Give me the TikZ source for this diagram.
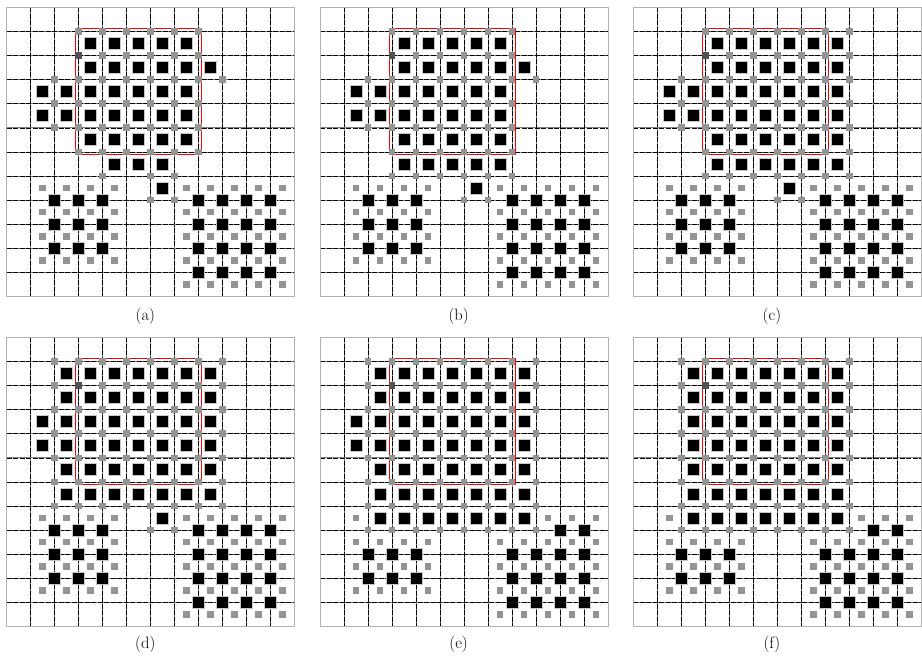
\documentclass[tikz,border=0pt]{standalone}
\begin{document}
\begin{tikzpicture}[x=1pt,y=1pt,
  gridin/.style={black!50,line width=0.8pt},
  gridda/.style={black,line width=0.6pt,dash pattern=on 5pt off 1.5pt},
  gridout/.style={black!30,line width=0.9pt},
  blksq/.style={fill=black,draw=black!22,line width=0.8pt},
  grysq/.style={fill=black!42},
  darksq/.style={fill=black!68},
  redbox/.style={red,line width=0.8pt},
  lab/.style={font=\fontsize{16.5}{19}\selectfont,anchor=base,inner sep=0pt}]
\useasboundingbox (0,0) rectangle (922,-661);
\fill[white] (0,0) rectangle (922,-661);
% helpers (cell units inside each panel scope)
\newcommand\Bsq[2]{\filldraw[blksq] ([shift={(-6pt,-6pt)}]#1,#2) rectangle ([shift={(6pt,6pt)}]#1,#2);}
\newcommand\Gsq[2]{\fill[grysq] ([shift={(-3.3pt,-3.3pt)}]#1,#2) rectangle ([shift={(3.3pt,3.3pt)}]#1,#2);}
\newcommand\Brow[2]{\foreach \xx in {#2}{\Bsq{\xx}{#1}}}
\newcommand\Grow[2]{\foreach \xx in {#2}{\Gsq{\xx}{#1}}}
\newcommand\PanelGrid{%
  \foreach \k in {1,...,11}{%
    \draw[gridin] (\k,0) -- (\k,12); \draw[gridda] (\k,0) -- (\k,12);
    \draw[gridin] (0,\k) -- (12,\k); \draw[gridda] (0,\k) -- (12,\k);}
  \draw[gridout] (0,0) rectangle (12,12);
  \draw[redbox] ([shift={(-3pt,3.2pt)}]3,1) rectangle ([shift={(3pt,-2.8pt)}]8,6);}
\newcommand\DarkDot{\fill[darksq] ([shift={(-3.3pt,-3.3pt)}]3,2) rectangle ([shift={(3.3pt,3.3pt)}]3,2);}
\newcommand\BotOld{%
  \foreach \yy in {7.5,8.5,9.5,10.5}{\Grow{\yy}{1.5,2.5,3.5,4.5}}
  \foreach \yy in {8,9,10}{\Brow{\yy}{2,3,4}}
  \foreach \yy in {7.5,8.5,9.5,10.5,11.5}{\Grow{\yy}{7.5,8.5,9.5,10.5,11.5}}
  \foreach \yy in {8,9,10,11}{\Brow{\yy}{8,9,10,11}}}
\newcommand\BotNew{%
  \Gsq{1.5}{7.5}
  \foreach \yy in {8.5,9.5,10.5}{\Grow{\yy}{1.5,2.5,3.5,4.5}}
  \foreach \yy in {9,10}{\Brow{\yy}{2,3,4}}
  \Grow{7.5}{9.5,10.5,11.5}
  \foreach \yy in {8.5,9.5,10.5,11.5}{\Grow{\yy}{7.5,8.5,9.5,10.5,11.5}}
  \Brow{8}{10,11}
  \foreach \yy in {9,10,11}{\Brow{\yy}{8,9,10,11}}}
% ---------- (a)
\begin{scope}[shift={(6.7,-7.3)},x=24pt,y=-24.1pt]
  \PanelGrid
  \Grow{1}{3,4,5,6,7,8}
  \Grow{2}{3,4,5,6,7,8}
  \Grow{3}{2,3,4,5,6,7,8,9}
  \Grow{4}{2,3,4,5,6,7,8}
  \Grow{5}{2,3,4,5,6,7,8}
  \Grow{6}{3,4,5,6,7,8}
  \Grow{7}{4,6,7}
  \Grow{8}{6,7}
  \Brow{1.5}{3.5,4.5,5.5,6.5,7.5}
  \Brow{2.5}{3.5,4.5,5.5,6.5,7.5,8.5}
  \Brow{3.5}{1.5,2.5,3.5,4.5,5.5,6.5,7.5}
  \Brow{4.5}{1.5,2.5,3.5,4.5,5.5,6.5,7.5}
  \Brow{5.5}{3.5,4.5,5.5,6.5,7.5}
  \Brow{6.5}{4.5,5.5,6.5}
  \Brow{7.5}{6.5}
  \BotOld
  \DarkDot
\end{scope}
% ---------- (b)
\begin{scope}[shift={(320,-7.3)},x=24pt,y=-24.1pt]
  \PanelGrid
  \Grow{1}{3,4,5,6,7,8}
  \Grow{2}{3,4,5,6,7,8}
  \Grow{3}{2,3,4,5,6,7,8,9}
  \Grow{4}{2,3,4,5,6,7,8}
  \Grow{5}{2,3,4,5,6,7,8}
  \Grow{6}{3,4,5,6,7,8}
  \Grow{7}{3,4,5,6,7,8}
  \Grow{8}{6,7}
  \Brow{1.5}{3.5,4.5,5.5,6.5,7.5}
  \Brow{2.5}{3.5,4.5,5.5,6.5,7.5,8.5}
  \Brow{3.5}{1.5,2.5,3.5,4.5,5.5,6.5,7.5}
  \Brow{4.5}{1.5,2.5,3.5,4.5,5.5,6.5,7.5}
  \Brow{5.5}{3.5,4.5,5.5,6.5,7.5}
  \Brow{6.5}{3.5,4.5,5.5,6.5,7.5}
  \Brow{7.5}{6.5}
  \BotOld
  \DarkDot
\end{scope}
% ---------- (c)
\begin{scope}[shift={(633.3,-7.3)},x=24pt,y=-24.1pt]
  \PanelGrid
  \Grow{1}{3,4,5,6,7,8,9}
  \Grow{2}{3,4,5,6,7,8,9}
  \Grow{3}{2,3,4,5,6,7,8,9}
  \Grow{4}{2,3,4,5,6,7,8,9}
  \Grow{5}{2,3,4,5,6,7,8,9}
  \Grow{6}{3,4,5,6,7,8,9}
  \Grow{7}{3,4,5,6,7,8,9}
  \Grow{8}{6,7}
  \Brow{1.5}{3.5,4.5,5.5,6.5,7.5,8.5}
  \Brow{2.5}{3.5,4.5,5.5,6.5,7.5,8.5}
  \Brow{3.5}{1.5,2.5,3.5,4.5,5.5,6.5,7.5,8.5}
  \Brow{4.5}{1.5,2.5,3.5,4.5,5.5,6.5,7.5,8.5}
  \Brow{5.5}{3.5,4.5,5.5,6.5,7.5,8.5}
  \Brow{6.5}{3.5,4.5,5.5,6.5,7.5,8.5}
  \Brow{7.5}{6.5}
  \BotOld
  \DarkDot
\end{scope}
% ---------- (d)
\begin{scope}[shift={(6.7,-337.3)},x=24pt,y=-24.1pt]
  \PanelGrid
  \foreach \yy in {1,...,7}{\Grow{\yy}{2,3,4,5,6,7,8,9}}
  \Grow{8}{6,7}
  \Brow{1.5}{2.5,3.5,4.5,5.5,6.5,7.5,8.5}
  \Brow{2.5}{2.5,3.5,4.5,5.5,6.5,7.5,8.5}
  \Brow{3.5}{1.5,2.5,3.5,4.5,5.5,6.5,7.5,8.5}
  \Brow{4.5}{1.5,2.5,3.5,4.5,5.5,6.5,7.5,8.5}
  \Brow{5.5}{2.5,3.5,4.5,5.5,6.5,7.5,8.5}
  \Brow{6.5}{2.5,3.5,4.5,5.5,6.5,7.5,8.5}
  \Brow{7.5}{6.5}
  \BotOld
  \DarkDot
\end{scope}
% ---------- (e)
\begin{scope}[shift={(320,-337.3)},x=24pt,y=-24.1pt]
  \PanelGrid
  \foreach \yy in {1,...,8}{\Grow{\yy}{2,3,4,5,6,7,8,9}}
  \foreach \yy in {1.5,2.5,5.5,6.5,7.5}{\Brow{\yy}{2.5,3.5,4.5,5.5,6.5,7.5,8.5}}
  \foreach \yy in {3.5,4.5}{\Brow{\yy}{1.5,2.5,3.5,4.5,5.5,6.5,7.5,8.5}}
  \BotNew
  \DarkDot
\end{scope}
% ---------- (f)
\begin{scope}[shift={(633.3,-337.3)},x=24pt,y=-24.1pt]
  \PanelGrid
  \foreach \yy in {1,...,8}{\Grow{\yy}{2,3,4,5,6,7,8,9}}
  \foreach \yy in {1.5,2.5,3.5,4.5,5.5,6.5,7.5}{\Brow{\yy}{2.5,3.5,4.5,5.5,6.5,7.5,8.5}}
  \BotNew
  \DarkDot
\end{scope}
% ---------- labels
\node[lab] (la) at (145.3,-320.5) {(a)};
\node[lab] (lb) at (458.6,-320.5) {(b)};
\node[lab] (lc) at (771.9,-320.5) {(c)};
\node[lab] (ld) at (145.3,-648.5) {(d)};
\node[lab] (le) at (458.6,-648.5) {(e)};
\node[lab] (lf) at (771.9,-648.5) {(f)};
\end{tikzpicture}
\end{document}
